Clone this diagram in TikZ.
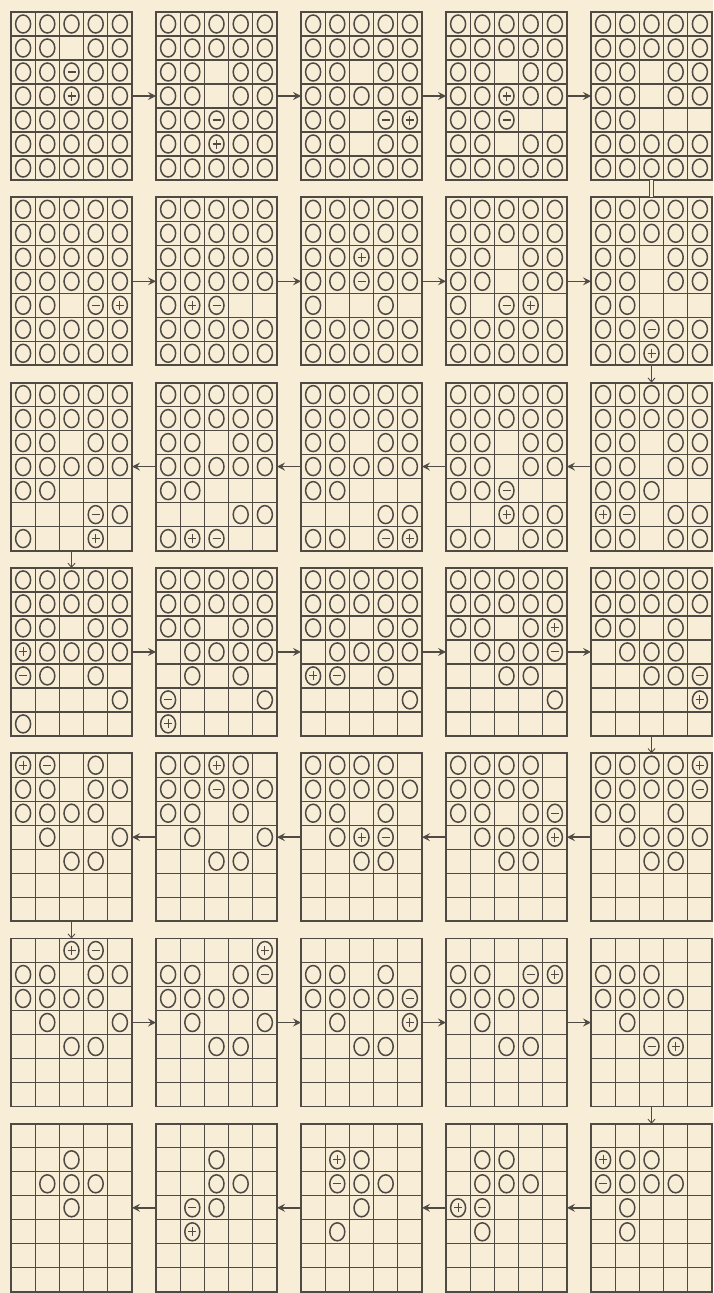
\documentclass[tikz,border=0pt]{standalone}
\usetikzlibrary{arrows.meta}
\definecolor{paper}{HTML}{F8EDD6}
\definecolor{ink}{HTML}{4F4A43}
\tikzset{
  panel/.style={draw=ink, line width=1.8pt, minimum width=121pt, minimum height=168pt, inner sep=0pt, outer sep=0pt},
  gridline/.style={draw=ink, line width=1.2pt},
  peg/.style={draw=ink, line width=1.5pt},
  sign/.style={draw=ink, line width=1.1pt},
  harrow/.style={draw=ink, line width=1.6pt, -{Stealth[length=8pt,width=8pt,inset=3pt]}},
  varrow/.style={draw=ink, line width=0.9pt, -{Straight Barb[length=4pt,width=7pt]}},
  equalline/.style={draw=ink, line width=0.8pt, double=paper, double distance=2.5pt}
}
\newcommand\cellO[2]{\draw[peg] (#1,#2) ellipse [x radius=7.5pt, y radius=9pt];}
\newcommand\cellP[2]{\cellO{#1}{#2}\draw[sign] (#1-4,#2) -- (#1+4,#2) (#1,#2-4.5) -- (#1,#2+4.5);}
\newcommand\cellM[2]{\cellO{#1}{#2}\draw[sign] (#1-4,#2) -- (#1+4,#2);}
\newcommand\cellE[2]{}
\newcommand\drawpanel[4]{%
  \pgfmathsetmacro\px{11+145*#2}%
  \pgfmathsetmacro\py{12+185.3*#3}%
  \node[panel] (#1) at (\px+60.5,\py+84) {};
  \foreach \kk in {1,...,4} \draw[gridline] (\px+\kk*24.2,\py) -- ++(0,168);
  \foreach \kk in {1,...,6} \draw[gridline] (\px,\py+\kk*24) -- ++(121,0);
  \foreach \rowlist [count=\ry] in {#4} {
    \foreach \cx [count=\kx] in \rowlist {
      \csname cell\cx\endcsname{\px+\kx*24.2-12.1}{\py+\ry*24-12}
    }
  }
}
\begin{document}
\begin{tikzpicture}[x=1pt,y=-1pt]
\fill[paper] (0,0) rectangle (713,1293);
\useasboundingbox (0,0) rectangle (713,1293);
% row 1
\drawpanel{p11}{0}{0}{{O,O,O,O,O},{O,O,E,O,O},{O,O,M,O,O},{O,O,P,O,O},{O,O,O,O,O},{O,O,O,O,O},{O,O,O,O,O}}
\drawpanel{p12}{1}{0}{{O,O,O,O,O},{O,O,O,O,O},{O,O,E,O,O},{O,O,E,O,O},{O,O,M,O,O},{O,O,P,O,O},{O,O,O,O,O}}
\drawpanel{p13}{2}{0}{{O,O,O,O,O},{O,O,O,O,O},{O,O,E,O,O},{O,O,O,O,O},{O,O,E,M,P},{O,O,E,O,O},{O,O,O,O,O}}
\drawpanel{p14}{3}{0}{{O,O,O,O,O},{O,O,O,O,O},{O,O,E,O,O},{O,O,P,O,O},{O,O,M,E,E},{O,O,E,O,O},{O,O,O,O,O}}
\drawpanel{p15}{4}{0}{{O,O,O,O,O},{O,O,O,O,O},{O,O,E,O,O},{O,O,E,O,O},{O,O,E,E,E},{O,O,O,O,O},{O,O,O,O,O}}
% row 2
\drawpanel{p21}{0}{1}{{O,O,O,O,O},{O,O,O,O,O},{O,O,O,O,O},{O,O,O,O,O},{O,O,E,M,P},{O,O,O,O,O},{O,O,O,O,O}}
\drawpanel{p22}{1}{1}{{O,O,O,O,O},{O,O,O,O,O},{O,O,O,O,O},{O,O,O,O,O},{O,P,M,E,E},{O,O,O,O,O},{O,O,O,O,O}}
\drawpanel{p23}{2}{1}{{O,O,O,O,O},{O,O,O,O,O},{O,O,P,O,O},{O,O,M,O,O},{O,E,E,O,E},{O,O,O,O,O},{O,O,O,O,O}}
\drawpanel{p24}{3}{1}{{O,O,O,O,O},{O,O,O,O,O},{O,O,E,O,O},{O,O,E,O,O},{O,E,M,P,E},{O,O,O,O,O},{O,O,O,O,O}}
\drawpanel{p25}{4}{1}{{O,O,O,O,O},{O,O,O,O,O},{O,O,E,O,O},{O,O,E,O,O},{O,O,E,E,E},{O,O,M,O,O},{O,O,P,O,O}}
% row 3
\drawpanel{p35}{4}{2}{{O,O,O,O,O},{O,O,O,O,O},{O,O,E,O,O},{O,O,E,O,O},{O,O,O,E,E},{P,M,E,O,O},{O,O,E,O,O}}
\drawpanel{p34}{3}{2}{{O,O,O,O,O},{O,O,O,O,O},{O,O,E,O,O},{O,O,E,O,O},{O,O,M,E,E},{E,E,P,O,O},{O,O,E,O,O}}
\drawpanel{p33}{2}{2}{{O,O,O,O,O},{O,O,O,O,O},{O,O,E,O,O},{O,O,O,O,O},{O,O,E,E,E},{E,E,E,O,O},{O,O,E,M,P}}
\drawpanel{p32}{1}{2}{{O,O,O,O,O},{O,O,O,O,O},{O,O,E,O,O},{O,O,O,O,O},{O,O,E,E,E},{E,E,E,O,O},{O,P,M,E,E}}
\drawpanel{p31}{0}{2}{{O,O,O,O,O},{O,O,O,O,O},{O,O,E,O,O},{O,O,O,O,O},{O,O,E,E,E},{E,E,E,M,O},{O,E,E,P,E}}
% row 4
\drawpanel{p41}{0}{3}{{O,O,O,O,O},{O,O,O,O,O},{O,O,E,O,O},{P,O,O,O,O},{M,O,E,O,E},{E,E,E,E,O},{O,E,E,E,E}}
\drawpanel{p42}{1}{3}{{O,O,O,O,O},{O,O,O,O,O},{O,O,E,O,O},{E,O,O,O,O},{E,O,E,O,E},{M,E,E,E,O},{P,E,E,E,E}}
\drawpanel{p43}{2}{3}{{O,O,O,O,O},{O,O,O,O,O},{O,O,E,O,O},{E,O,O,O,O},{P,M,E,O,E},{E,E,E,E,O}}
\drawpanel{p44}{3}{3}{{O,O,O,O,O},{O,O,O,O,O},{O,O,E,O,P},{E,O,O,O,M},{E,E,O,O,E},{E,E,E,E,O}}
\drawpanel{p45}{4}{3}{{O,O,O,O,O},{O,O,O,O,O},{O,O,E,O,E},{E,O,O,O,E},{E,E,O,O,M},{E,E,E,E,P}}
% row 5
\drawpanel{p55}{4}{4}{{O,O,O,O,P},{O,O,O,O,M},{O,O,E,O,E},{E,O,O,O,O},{E,E,O,O,E}}
\drawpanel{p54}{3}{4}{{O,O,O,O,E},{O,O,O,O,E},{O,O,E,O,M},{E,O,O,O,P},{E,E,O,O,E}}
\drawpanel{p53}{2}{4}{{O,O,O,O,E},{O,O,O,O,O},{O,O,E,O,E},{E,O,P,M,E},{E,E,O,O,E}}
\drawpanel{p52}{1}{4}{{O,O,P,O,E},{O,O,M,O,O},{O,O,E,O,E},{E,O,E,E,O},{E,E,O,O,E}}
\drawpanel{p51}{0}{4}{{P,M,E,O,E},{O,O,E,O,O},{O,O,O,O,E},{E,O,E,E,O},{E,E,O,O,E}}
% row 6
\drawpanel{p61}{0}{5}{{E,E,P,M,E},{O,O,E,O,O},{O,O,O,O,E},{E,O,E,E,O},{E,E,O,O,E}}
\drawpanel{p62}{1}{5}{{E,E,E,E,P},{O,O,E,O,M},{O,O,O,O,E},{E,O,E,E,O},{E,E,O,O,E}}
\drawpanel{p63}{2}{5}{{E,E,E,E,E},{O,O,E,O,E},{O,O,O,O,M},{E,O,E,E,P},{E,E,O,O,E}}
\drawpanel{p64}{3}{5}{{E,E,E,E,E},{O,O,E,M,P},{O,O,O,O,E},{E,O,E,E,E},{E,E,O,O,E}}
\drawpanel{p65}{4}{5}{{E,E,E,E,E},{O,O,O,E,E},{O,O,O,O,E},{E,O,E,E,E},{E,E,M,P,E}}
% row 7
\drawpanel{p75}{4}{6}{{E,E,E,E,E},{P,O,O,E,E},{M,O,O,O,E},{E,O,E,E,E},{E,O,E,E,E}}
\drawpanel{p74}{3}{6}{{E,E,E,E,E},{E,O,O,E,E},{E,O,O,O,E},{P,M,E,E,E},{E,O,E,E,E}}
\drawpanel{p73}{2}{6}{{E,E,E,E,E},{E,P,O,E,E},{E,M,O,O,E},{E,E,O,E,E},{E,O,E,E,E}}
\drawpanel{p72}{1}{6}{{E,E,E,E,E},{E,E,O,E,E},{E,E,O,O,E},{E,M,O,E,E},{E,P,E,E,E}}
\drawpanel{p71}{0}{6}{{E,E,E,E,E},{E,E,O,E,E},{E,O,O,O,E},{E,E,O,E,E}}
% connectors
\foreach \rr in {1,2,4,6} {
  \foreach \aa/\bb in {1/2,2/3,3/4,4/5} \draw[harrow] (p\rr\aa.east) -- (p\rr\bb.west);
}
\foreach \rr in {3,5,7} {
  \foreach \aa/\bb in {5/4,4/3,3/2,2/1} \draw[harrow] (p\rr\aa.west) -- (p\rr\bb.east);
}
\draw[equalline] (p15.south) -- (p25.north);
\draw[varrow] (p25.south) -- (p35.north);
\draw[varrow] (p31.south) -- (p41.north);
\draw[varrow] (p45.south) -- (p55.north);
\draw[varrow] (p51.south) -- (p61.north);
\draw[varrow] (p65.south) -- (p75.north);
\end{tikzpicture}
\end{document}
